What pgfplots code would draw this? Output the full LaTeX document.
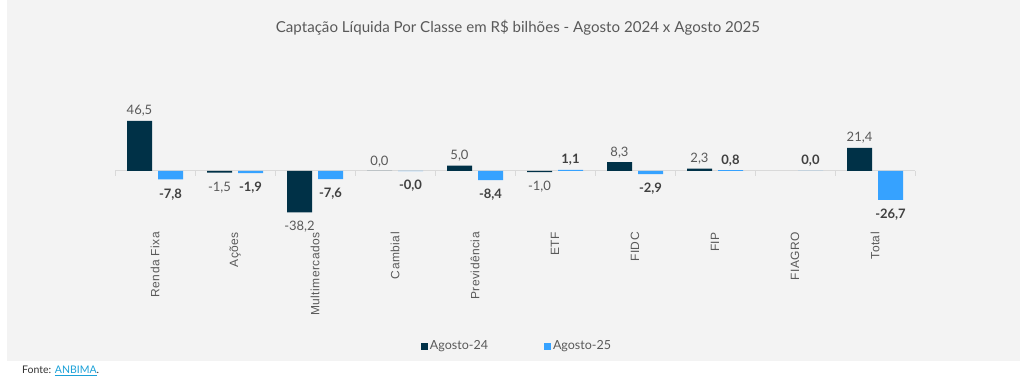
\documentclass[border=0pt]{standalone}
\usepackage{pgfplots}
\pgfplotsset{compat=1.18}
\usepackage{pgfplotstable}
\usepackage{fontspec}
\setmainfont{Lato}
\newfontfamily\tickfont[LetterSpace=4]{Liberation Sans}
\definecolor{bgc}{HTML}{F3F3F3}
\definecolor{dark}{HTML}{003147}
\definecolor{light}{HTML}{36A2FF}
\definecolor{txt}{HTML}{595959}
\definecolor{txtb}{HTML}{404040}
\definecolor{zline}{HTML}{D9D9D9}
\definecolor{link}{HTML}{1BA1D8}

% Agosto-24, values >= 0
\pgfplotstableread{
x y lab
0 46.5 46,5
3 0.0 0,0
4 5.0 5,0
6 8.3 8,3
7 2.3 2,3
9 21.4 21,4
}\tabAp
% Agosto-24, values < 0
\pgfplotstableread{
x y lab
1 -1.5 -1,5
2 -38.2 -38,2
5 -1.0 -1,0
}\tabAn
% Agosto-25, values >= 0
\pgfplotstableread{
x y lab
5 1.1 1,1
7 0.8 0,8
8 0.0 0,0
}\tabBp
% Agosto-25, values < 0
\pgfplotstableread{
x y lab
0 -7.8 -7,8
1 -1.9 -1,9
2 -7.6 -7,6
3 -0.001 -0,0
4 -8.4 -8,4
6 -2.9 -2,9
9 -26.7 -26,7
}\tabBn

\begin{document}
\begin{tikzpicture}
\useasboundingbox (0,0) rectangle (1024pt,-379pt);
\fill[white] (0,0) rectangle (1024pt,-379pt);
\fill[bgc] (7pt,0) rectangle (1020pt,-361pt);
\node[text=txt, font=\fontsize{15.1}{17}\selectfont] at (518pt,-28pt) {Captação Líquida Por Classe em R\$ bilhões - Agosto 2024 x Agosto 2025};
\node[anchor=west, font=\fontsize{10.5}{12}\selectfont, text=black!80, inner sep=0pt] at (22pt,-371pt) {Fonte: \textcolor{link}{\underline{ANBIMA}}.};
\begin{axis}[
  at={(115pt,-225pt)}, anchor=south west,
  scale only axis, width=800pt, height=118.8pt,
  xmin=-0.5, xmax=9.5, ymin=-50, ymax=60,
  ybar, bar width=25pt,
  axis line style={draw=none},
  ytick=\empty,
  xtick={0,...,9},
  xticklabels={Renda Fixa, Ações, Multimercados, Cambial, Previdência, ETF, FIDC, FIP, FIAGRO, Total},
  xticklabel style={rotate=90, anchor=east, font=\tickfont\fontsize{12}{14}\selectfont, text=txt, inner sep=0pt},
  xticklabel shift=7pt,
  major tick length=0pt,
  extra y ticks={0}, extra y tick labels={},
  extra y tick style={grid=major, major grid style={draw=zline, line width=1pt}},
  clip=false,
  point meta=explicit symbolic,
  nodes near coords,
  legend style={at={(0.5,0)}, anchor=center, xshift=2pt, yshift=-121pt, draw=none, fill=none,
    font=\fontsize{12.5}{15}\selectfont, text=txt,
    /tikz/every even column/.append style={column sep=54pt}},
  legend columns=2,
]
\pgfplotsinvokeforeach{-0.5,0.5,...,9.5}{\draw[zline, line width=1pt] (axis cs:#1,0) -- ++(0pt,-5pt);}
\addplot[fill=dark, draw=none, bar shift=-15.5pt,
  legend image code/.code={\fill[dark] (-3pt,-3.5pt) rectangle (4pt,3.5pt);},
  nodes near coords style={font=\fontsize{13}{15}\selectfont, text=txt, inner sep=4pt, anchor=south}]
  table[x=x, y=y, meta=lab]{\tabAp};
\addplot[fill=dark, draw=none, bar shift=-15.5pt, forget plot,
  nodes near coords style={font=\fontsize{13}{15}\selectfont, text=txt, inner sep=4pt, anchor=north, yshift=-5pt}]
  table[x=x, y=y, meta=lab]{\tabAn};
\addplot[fill=light, draw=none, bar shift=15.5pt,
  legend image code/.code={\fill[light] (-3pt,-3.5pt) rectangle (4pt,3.5pt);},
  nodes near coords style={font=\bfseries\fontsize{13}{15}\selectfont, text=txtb, inner sep=4pt, anchor=south}]
  table[x=x, y=y, meta=lab]{\tabBp};
\addplot[fill=light, draw=none, bar shift=15.5pt, forget plot,
  nodes near coords style={font=\bfseries\fontsize{13}{15}\selectfont, text=txtb, inner sep=4pt, anchor=north, yshift=-5pt}]
  table[x=x, y=y, meta=lab]{\tabBn};
\legend{Agosto-24, Agosto-25}
\end{axis}
\end{tikzpicture}
\end{document}
